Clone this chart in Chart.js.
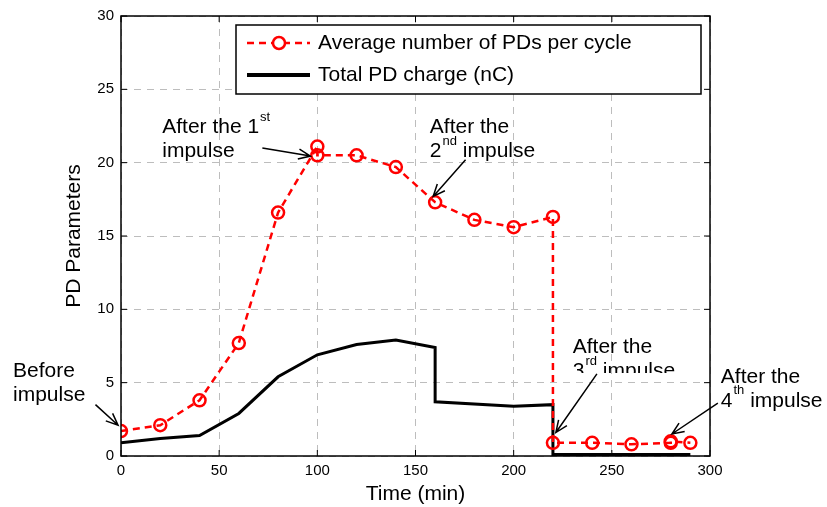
<!DOCTYPE html>
<html>
<head>
<meta charset="utf-8">
<script src="https://cdn.jsdelivr.net/npm/chart.js@4.4.0/dist/chart.umd.min.js"></script>
<style>
html, body { margin: 0; padding: 0; background: #fff; }
#wrap { width: 827px; height: 507px; }
</style>
</head>
<body>
<div id="wrap"><canvas id="pdChart" width="827" height="507"></canvas></div>
<script>
// Average number of PDs per cycle (red dashed, circles)
const avgTimes  = [0, 20, 40, 60, 80, 100, 100, 120, 140, 160, 180, 200, 220, 220, 240, 260, 280, 280, 290];
const avgValues = [1.7, 2.1, 3.8, 7.7, 16.6, 21.1, 20.5, 20.5, 19.7, 17.3, 16.1, 15.6, 16.3, 0.9, 0.9, 0.8, 0.9, 1.0, 0.9];

// Total PD charge (nC) (black solid)
const chargeTimes  = [0, 20, 40, 60, 80, 100, 120, 140, 160, 160, 200, 220, 220, 290];
const chargeValues = [0.9, 1.2, 1.4, 2.9, 5.4, 6.9, 7.6, 7.9, 7.4, 3.7, 3.4, 3.5, 0.1, 0.1];

const xTicks = [0, 50, 100, 150, 200, 250, 300];
const yTicks = [0, 5, 10, 15, 20, 25, 30];

// notes: [text, superscript, rest] per line, anchor and arrow in data units
const notes = [
    { x: -55, y: 5.8, lines: [['Before'], ['impulse']], from: [-13, 3.5], to: [-1.5, 2.1] },
    { x: 21, y: 22.4, lines: [['After the 1', 'st'], ['impulse']], from: [72, 21.0], to: [96.5, 20.45] },
    { x: 157.3, y: 22.4, lines: [['After the'], ['2', 'nd', ' impulse']], from: [175.5, 20.2], to: [159, 17.7] },
    { x: 230.1, y: 7.4, lines: [['After the'], ['3', 'rd', ' impulse']], clipY: 5.66, from: [242.4, 5.6], to: [221.5, 1.6] },
    { x: 305.5, y: 5.4, lines: [['After the'], ['4', 'th', ' impulse']], from: [304, 3.6], to: [280.6, 1.5] }
];

const FONT = '"Liberation Sans", Arial, sans-serif';

function arrow(ctx, x1, y1, x2, y2) {
    const ang = Math.atan2(y2 - y1, x2 - x1);
    const len = 13;
    ctx.beginPath();
    ctx.moveTo(x1, y1);
    ctx.lineTo(x2, y2);
    ctx.moveTo(x2 - len * Math.cos(ang - 0.4), y2 - len * Math.sin(ang - 0.4));
    ctx.lineTo(x2, y2);
    ctx.lineTo(x2 - len * Math.cos(ang + 0.4), y2 - len * Math.sin(ang + 0.4));
    ctx.stroke();
}

const overlay = {
    id: 'overlay',
    afterDraw(chart) {
        const ctx = chart.ctx;
        const a = chart.chartArea;
        const xs = chart.scales.x, ys = chart.scales.y;
        ctx.save();
        ctx.setLineDash([]);
        ctx.strokeStyle = '#000';
        ctx.lineWidth = 1.5;
        ctx.strokeRect(a.left, a.top, a.right - a.left, a.bottom - a.top);

        // inner tick marks (matlab style)
        ctx.lineWidth = 1;
        ctx.beginPath();
        xTicks.forEach(v => {
            const px = xs.getPixelForValue(v);
            ctx.moveTo(px, a.bottom); ctx.lineTo(px, a.bottom - 6);
            ctx.moveTo(px, a.top); ctx.lineTo(px, a.top + 6);
        });
        yTicks.forEach(v => {
            const py = ys.getPixelForValue(v);
            ctx.moveTo(a.left, py); ctx.lineTo(a.left + 6, py);
            ctx.moveTo(a.right, py); ctx.lineTo(a.right - 6, py);
        });
        ctx.stroke();

        // legend box
        const lx = a.left + 115, ly = a.top + 9, lw = 465, lh = 69;
        ctx.fillStyle = '#fff';
        ctx.fillRect(lx, ly, lw, lh);
        ctx.lineWidth = 1.5;
        ctx.strokeStyle = '#000';
        ctx.strokeRect(lx, ly, lw, lh);
        const ds = chart.data.datasets;
        // row 1
        let ry = ly + 18;
        ctx.strokeStyle = ds[0].borderColor;
        ctx.lineWidth = ds[0].borderWidth;
        ctx.setLineDash(ds[0].borderDash);
        ctx.beginPath(); ctx.moveTo(lx + 11, ry); ctx.lineTo(lx + 74, ry); ctx.stroke();
        ctx.setLineDash([]);
        ctx.lineWidth = ds[0].pointBorderWidth;
        ctx.fillStyle = '#fff';
        ctx.beginPath(); ctx.arc(lx + 43, ry, ds[0].pointRadius, 0, Math.PI * 2); ctx.fill(); ctx.stroke();
        // row 2
        let ry2 = ly + 50;
        ctx.strokeStyle = ds[1].borderColor;
        ctx.lineWidth = 4;
        ctx.beginPath(); ctx.moveTo(lx + 11, ry2); ctx.lineTo(lx + 74, ry2); ctx.stroke();
        ctx.fillStyle = '#000';
        ctx.font = '21px ' + FONT;
        ctx.textBaseline = 'middle';
        ctx.textAlign = 'left';
        ctx.fillText(ds[0].label, lx + 82, ry);
        ctx.fillText(ds[1].label, lx + 82, ry2);

        // annotations
        ctx.strokeStyle = '#000';
        ctx.lineWidth = 1.5;
        notes.forEach(n => {
            const x0 = xs.getPixelForValue(n.x);
            const y0 = ys.getPixelForValue(n.y);
            ctx.save();
            if (n.clipY !== undefined) {
                ctx.beginPath();
                ctx.rect(0, 0, chart.width, ys.getPixelForValue(n.clipY));
                ctx.clip();
            }
            n.lines.forEach((ln, i) => {
                const yy = y0 + i * 24;
                let px = x0;
                ctx.font = '21px ' + FONT;
                ctx.fillText(ln[0], px, yy);
                px += ctx.measureText(ln[0]).width;
                if (ln[1]) {
                    ctx.font = '13px ' + FONT;
                    ctx.fillText(ln[1], px + 1, yy - 10);
                    px += ctx.measureText(ln[1]).width + 1;
                }
                if (ln[2]) {
                    ctx.font = '21px ' + FONT;
                    ctx.fillText(ln[2], px, yy);
                }
            });
            ctx.restore();
            arrow(ctx, xs.getPixelForValue(n.from[0]), ys.getPixelForValue(n.from[1]),
                       xs.getPixelForValue(n.to[0]), ys.getPixelForValue(n.to[1]));
        });
        ctx.restore();
    }
};

const ctxPd = document.getElementById('pdChart').getContext('2d');
const pdChart = new Chart(ctxPd, {
    type: 'line',
    data: {
        datasets: [{
            label: 'Average number of PDs per cycle',
            data: avgTimes.map((t, i) => ({ x: t, y: avgValues[i] })),
            borderColor: '#ff0000',
            borderWidth: 2.5,
            borderDash: [7, 5],
            pointRadius: 6,
            pointBorderWidth: 2.5,
            pointBackgroundColor: 'rgba(255,255,255,0)',
            pointBorderColor: '#ff0000',
            tension: 0,
            fill: false
        }, {
            label: 'Total PD charge (nC)',
            data: chargeTimes.map((t, i) => ({ x: t, y: chargeValues[i] })),
            borderColor: '#000000',
            borderWidth: 3,
            pointRadius: 0,
            tension: 0,
            fill: false
        }]
    },
    options: {
        responsive: false,
        animation: false,
        layout: { padding: { top: 16, right: 117, left: 0, bottom: 0 } },
        plugins: {
            legend: { display: false },
            tooltip: { enabled: false }
        },
        scales: {
            x: {
                type: 'linear',
                min: 0,
                max: 300,
                afterFit: s => { s.height = 51; },
                afterBuildTicks: s => { s.ticks = xTicks.map(v => ({ value: v })); },
                ticks: { color: '#000', font: { family: FONT, size: 15 }, padding: 6, maxRotation: 0 },
                grid: { color: '#bdbdbd', lineWidth: 1, drawTicks: false },
                border: { display: false, dash: [7, 6] },
                title: { display: true, text: 'Time (min)', color: '#000', font: { family: FONT, size: 21 }, padding: { top: 0, bottom: 0 } }
            },
            y: {
                type: 'linear',
                min: 0,
                max: 30,
                afterFit: s => { s.width = 121; },
                afterBuildTicks: s => { s.ticks = yTicks.map(v => ({ value: v })); },
                ticks: { color: '#000', font: { family: FONT, size: 15 }, padding: 7 },
                grid: { color: '#bdbdbd', lineWidth: 1, drawTicks: false },
                border: { display: false, dash: [7, 6] },
                title: { display: true, text: 'PD Parameters', color: '#000', font: { family: FONT, size: 21 }, padding: { top: 62, bottom: 0 } }
            }
        }
    },
    plugins: [overlay]
});
</script>
</body>
</html>
